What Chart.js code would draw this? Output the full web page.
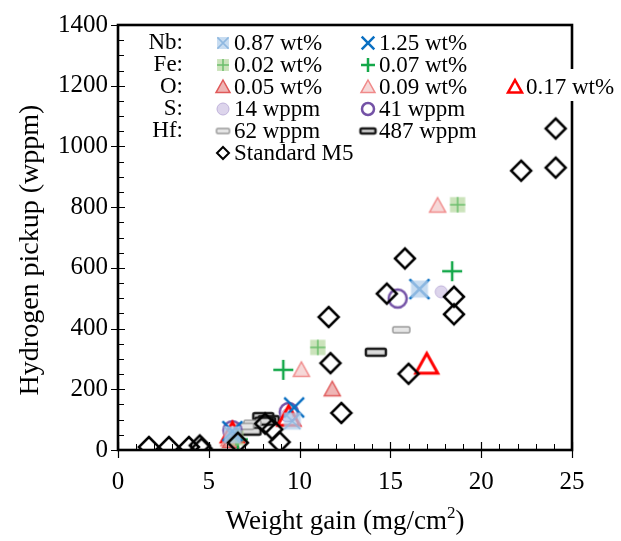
<!DOCTYPE html>
<html>
<head>
<meta charset="utf-8">
<script src="https://cdn.jsdelivr.net/npm/chart.js@4.4.1/dist/chart.umd.min.js"></script>
<style>
  body { margin: 0; background: #fff; }
</style>
</head>
<body>
<canvas id="chart" width="621" height="541"></canvas>
<script>
// values: weight gain (mg/cm2) and hydrogen pickup (wppm)
const m5X = [1.7, 2.8, 3.9, 4.5, 4.6, 6.6, 8.1, 8.5, 8.9, 11.6, 11.7, 12.3, 14.8, 15.8, 16.0, 18.5, 18.5, 22.2, 24.1, 24.1];
const m5Y = [10, 10, 10, 15, 5, 24, 87, 68, 26, 438, 286, 122, 515, 631, 251, 505, 447, 920, 930, 1059];

const nb087X = [16.6, 6.3, 9.6];
const nb087Y = [530, 50, 95];
const nb125X = [16.6, 6.3, 9.7];
const nb125Y = [530, 62, 140];

const fe002X = [11.0, 18.7, 6.5];
const fe002Y = [338, 808, 40];
const fe007X = [9.1, 18.4, 6.6];
const fe007Y = [264, 589, 35];

const o005X = [11.8, 6.2];
const o005Y = [200, 30];
const o009X = [10.1, 17.6, 6.1];
const o009Y = [264, 805, 35];
const o017X = [17.0, 9.4, 6.3];
const o017Y = [282, 110, 55];

const s14X = [17.8, 9.3, 6.2];
const s14Y = [521, 115, 55];
const s41X = [15.4, 9.4, 6.3];
const s41Y = [499, 125, 65];

const hf62X = [15.6, 7.4, 7.0];
const hf62Y = [396, 88, 78];
const hf487X = [14.2, 7.3, 8.0, 8.3, 8.1];
const hf487Y = [322, 62, 110, 100, 95];

const xTicks = [0, 5, 10, 15, 20, 25];
const yTicks = [0, 200, 400, 600, 800, 1000, 1200, 1400];

const serif = "'Liberation Serif', 'DejaVu Serif', serif";

// marker pictures, size s
function makeMarker(kind, s) {
  const pad = 4;
  const c = document.createElement("canvas");
  let w = s + pad * 2, h = s + pad * 2;
  if (kind === "hf62" || kind === "hf487") h = Math.round(s * 0.35) + pad * 2;
  c.width = w; c.height = h;
  const g = c.getContext("2d");
  const cx = w / 2, cy = h / 2, r = s / 2;
  g.lineCap = "butt";
  g.lineJoin = "miter";

  function tri() {
    g.beginPath();
    g.moveTo(cx, cy - r);
    g.lineTo(cx + r, cy + r * 0.8);
    g.lineTo(cx - r, cy + r * 0.8);
    g.closePath();
  }
  function cross(rot, col, lw, k) {
    g.strokeStyle = col; g.lineWidth = lw;
    g.beginPath();
    if (rot) {
      g.moveTo(cx - r * k, cy - r * k); g.lineTo(cx + r * k, cy + r * k);
      g.moveTo(cx + r * k, cy - r * k); g.lineTo(cx - r * k, cy + r * k);
    } else {
      g.moveTo(cx - r * k, cy); g.lineTo(cx + r * k, cy);
      g.moveTo(cx, cy - r * k); g.lineTo(cx, cy + r * k);
    }
    g.stroke();
  }
  function bar(fill, stroke, lw) {
    const bh = Math.round(s * 0.35);
    g.fillStyle = fill; g.strokeStyle = stroke; g.lineWidth = lw;
    g.beginPath();
    g.roundRect(cx - r, cy - bh / 2, s, bh, 1.5);
    g.fill(); g.stroke();
  }

  switch (kind) {
    case "m5":
      g.strokeStyle = "#000"; g.lineWidth = s > 14 ? 2.5 : 2;
      g.beginPath();
      g.moveTo(cx, cy - r); g.lineTo(cx + r, cy); g.lineTo(cx, cy + r); g.lineTo(cx - r, cy);
      g.closePath(); g.stroke();
      break;
    case "nb087":
      g.fillStyle = "rgba(180,208,236,0.75)";
      g.fillRect(cx - r * 0.85, cy - r * 0.85, r * 1.7, r * 1.7);
      cross(true, "#8fb8e0", 1.5, 0.8);
      break;
    case "nb125":
      cross(true, "#0a6fc2", 2.5, 0.9);
      break;
    case "fe002":
      g.fillStyle = "rgba(169,209,142,0.6)";
      g.fillRect(cx - r * 0.85, cy - r * 0.85, r * 1.7, r * 1.7);
      cross(false, "#6cbf6c", 1.5, 0.85);
      break;
    case "fe007":
      cross(false, "#14a84a", 2.5, 1);
      break;
    case "o005":
      tri(); g.fillStyle = "rgba(226,120,120,0.55)"; g.fill();
      g.strokeStyle = "#e05a5a"; g.lineWidth = 1.5; g.stroke();
      break;
    case "o009":
      tri(); g.fillStyle = "rgba(240,190,190,0.6)"; g.fill();
      g.strokeStyle = "#f08a8a"; g.lineWidth = 1.5; g.stroke();
      break;
    case "o017":
      tri(); g.strokeStyle = "#ff0000"; g.lineWidth = s > 14 ? 3 : 2.5; g.stroke();
      break;
    case "s14":
      g.beginPath(); g.arc(cx, cy, r, 0, Math.PI * 2);
      g.fillStyle = "#ddd5ec"; g.fill();
      g.strokeStyle = "#bfb2da"; g.lineWidth = 1; g.stroke();
      break;
    case "s41":
      g.beginPath(); g.arc(cx, cy, r, 0, Math.PI * 2);
      g.strokeStyle = "#7452a6"; g.lineWidth = 2.5; g.stroke();
      break;
    case "hf62":
      bar("#e6e6e6", "#9a9a9a", 1.5);
      break;
    case "hf487":
      bar("#dcdcdc", "#1a1a1a", 2.5);
      break;
  }
  return c;
}

function pts(xs, ys) {
  return xs.map((x, i) => ({ x: x, y: ys[i] }));
}

const series = [
  { key: "m5", xs: m5X, ys: m5Y, size: 20, legend: 12 },
  { key: "nb087", xs: nb087X, ys: nb087Y, size: 20, legend: 14 },
  { key: "nb125", xs: nb125X, ys: nb125Y, size: 22, legend: 14 },
  { key: "fe002", xs: fe002X, ys: fe002Y, size: 18, legend: 14 },
  { key: "fe007", xs: fe007X, ys: fe007Y, size: 20, legend: 14 },
  { key: "o005", xs: o005X, ys: o005Y, size: 16, legend: 14 },
  { key: "o009", xs: o009X, ys: o009Y, size: 16, legend: 14 },
  { key: "o017", xs: o017X, ys: o017Y, size: 22, legend: 14 },
  { key: "s14", xs: s14X, ys: s14Y, size: 12, legend: 12 },
  { key: "s41", xs: s41X, ys: s41Y, size: 18, legend: 12 },
  { key: "hf62", xs: hf62X, ys: hf62Y, size: 17, legend: 13 },
  { key: "hf487", xs: hf487X, ys: hf487Y, size: 20, legend: 15 }
];

const datasets = series.map(s => ({
  label: s.key,
  data: pts(s.xs, s.ys),
  pointStyle: makeMarker(s.key, s.size),
  pointRadius: s.size / 2,
  showLine: false
}));

const legendIcons = {};
series.forEach(s => { legendIcons[s.key] = makeMarker(s.key, s.legend); });

// legend layout as in the figure
const rowLabels = ["Nb:", "Fe:", "O:", "S:", "Hf:"];
const rowY = [43, 65, 87, 109, 131, 153];
const legendRows = [
  [["nb087", "0.87 wt%"], ["nb125", "1.25 wt%"]],
  [["fe002", "0.02 wt%"], ["fe007", "0.07 wt%"]],
  [["o005", "0.05 wt%"], ["o009", "0.09 wt%"], ["o017", "0.17 wt%"]],
  [["s14", "14 wppm"], ["s41", "41 wppm"]],
  [["hf62", "62 wppm"], ["hf487", "487 wppm"]],
  [["m5", "Standard M5"]]
];
const colX = [223, 368, 515];

const frame = {
  id: "frame",
  afterDraw(chart) {
    const { ctx, chartArea: a, scales: { x, y } } = chart;
    ctx.save();
    ctx.strokeStyle = "#000";

    // minor ticks (inside)
    ctx.lineWidth = 1;
    ctx.beginPath();
    for (let v = 50; v < 1400; v += 50) {
      if (v % 200 === 0) continue;
      const py = Math.round(y.getPixelForValue(v)) + 0.5;
      ctx.moveTo(a.left, py); ctx.lineTo(a.left + 6, py);
    }
    for (let v = 1; v < 25; v++) {
      if (v % 5 === 0) continue;
      const px = Math.round(x.getPixelForValue(v)) + 0.5;
      ctx.moveTo(px, a.bottom); ctx.lineTo(px, a.bottom - 6);
    }
    ctx.stroke();

    // major ticks (crossing)
    ctx.lineWidth = 1.2;
    ctx.beginPath();
    yTicks.forEach(v => {
      const py = Math.round(y.getPixelForValue(v)) + 0.5;
      ctx.moveTo(a.left - 7, py); ctx.lineTo(a.left + 7, py);
    });
    xTicks.forEach(v => {
      const px = Math.round(x.getPixelForValue(v)) + 0.5;
      ctx.moveTo(px, a.bottom + 8); ctx.lineTo(px, a.bottom - 8);
    });
    ctx.stroke();

    // frame
    ctx.lineWidth = 2.6;
    ctx.strokeRect(a.left, a.top, a.right - a.left, a.bottom - a.top);

    // legend
    ctx.fillStyle = "#fff";
    ctx.fillRect(505, 69, 116, 32);
    ctx.font = "23px " + serif;
    ctx.textBaseline = "middle";
    ctx.fillStyle = "#000";
    rowLabels.forEach((t, i) => {
      ctx.textAlign = "right";
      ctx.fillText(t, 183, rowY[i]);
    });
    legendRows.forEach((row, i) => {
      row.forEach((item, j) => {
        const icon = legendIcons[item[0]];
        const cx = colX[j];
        ctx.drawImage(icon, cx - icon.width / 2, rowY[i] - icon.height / 2);
        ctx.textAlign = "left";
        ctx.fillStyle = "#000";
        ctx.fillText(item[1], cx + 11, rowY[i] + 1);
      });
    });

    // axis titles
    ctx.font = "27px " + serif;
    ctx.textBaseline = "alphabetic";
    ctx.textAlign = "left";
    const t1 = "Weight gain (mg/cm", t2 = "2", t3 = ")";
    const w1 = ctx.measureText(t1).width;
    const w3 = ctx.measureText(t3).width;
    ctx.font = "17px " + serif;
    const w2 = ctx.measureText(t2).width;
    const total = w1 + w2 + w3;
    const cxT = (a.left + a.right) / 2;
    let sx = cxT - total / 2;
    ctx.font = "27px " + serif;
    ctx.fillText(t1, sx, 529);
    ctx.font = "17px " + serif;
    ctx.fillText(t2, sx + w1, 518);
    ctx.font = "27px " + serif;
    ctx.fillText(t3, sx + w1 + w2, 529);

    ctx.font = "28px " + serif;
    ctx.translate(38, 250);
    ctx.rotate(-Math.PI / 2);
    ctx.textAlign = "center";
    ctx.fillText("Hydrogen pickup (wppm)", 0, 0);
    ctx.restore();
  }
};

new Chart(document.getElementById("chart").getContext("2d"), {
  type: "scatter",
  data: { datasets },
  options: {
    responsive: false,
    devicePixelRatio: 1,
    animation: false,
    layout: { padding: { top: 15, right: 49, left: 0, bottom: 0 } },
    plugins: { legend: { display: false }, tooltip: { enabled: false } },
    scales: {
      x: {
        min: 0, max: 25,
        afterBuildTicks: s => { s.ticks = xTicks.map(v => ({ value: v })); },
        ticks: { padding: 17, color: "#000", maxRotation: 0, font: { family: serif, size: 25 }, callback: v => String(v) },
        grid: { display: false, drawTicks: false },
        border: { display: false },
        afterFit: s => { s.height = 91; }
      },
      y: {
        min: 0, max: 1400,
        afterBuildTicks: s => { s.ticks = yTicks.map(v => ({ value: v })); },
        ticks: { padding: 10, color: "#000", font: { family: serif, size: 25 }, callback: v => String(v) },
        grid: { display: false, drawTicks: false },
        border: { display: false },
        afterFit: s => { s.width = 118; }
      }
    }
  },
  plugins: [frame]
});
</script>
</body>
</html>
